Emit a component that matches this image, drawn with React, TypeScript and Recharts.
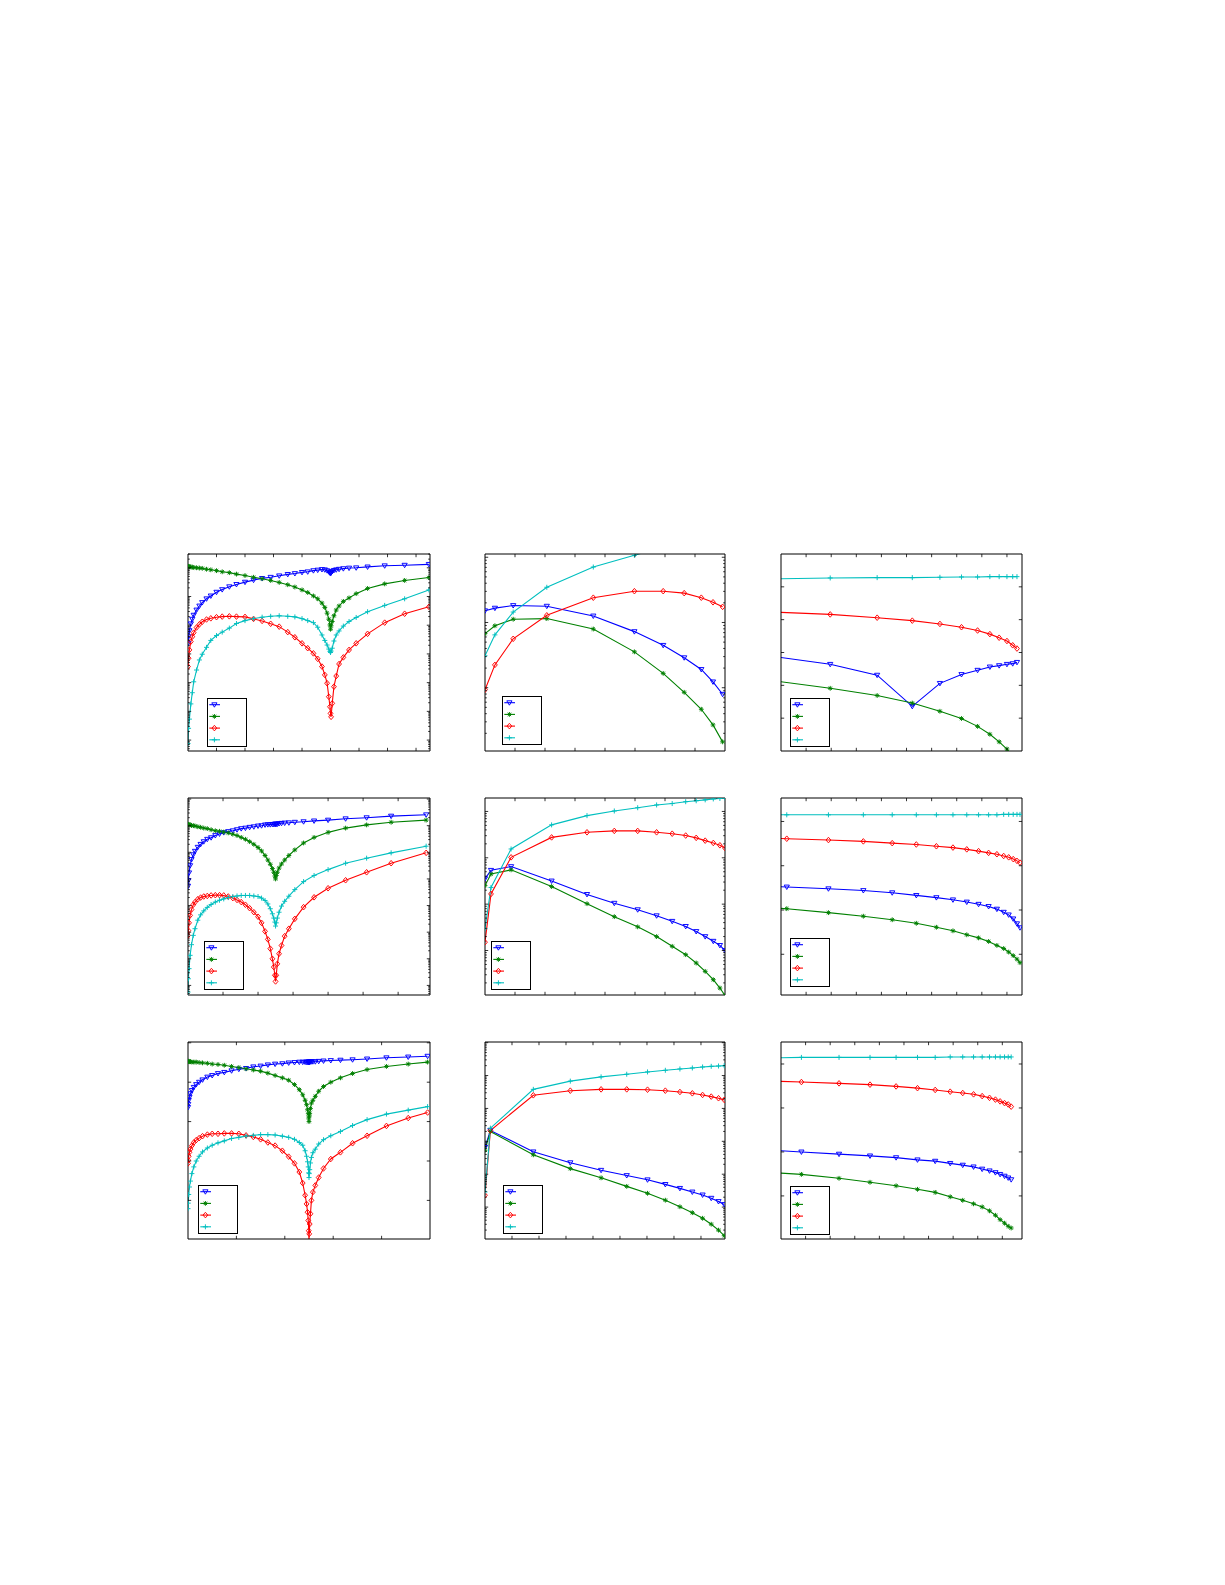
import React from "react";
import { LineChart, Line, XAxis, YAxis, Legend } from "recharts";

// Values are read off the picture. The axes have no labels, so x is measured in
// tick intervals and y in decades (log panels) or tick intervals (linear panels).

// ---- row 1, column 1 ----
const r1c1X = [0, 0.02, 0.05, 0.1, 0.15, 0.2, 0.3, 0.4, 0.5, 0.65, 0.8, 1.0, 1.2, 1.45, 1.7, 2.0, 2.3, 2.6, 2.9, 3.2, 3.5, 3.75, 4.0, 4.2, 4.4, 4.55, 4.7, 4.8, 4.88, 4.94, 4.98, 5.0, 5.02, 5.06, 5.12, 5.2, 5.3, 5.45, 5.65, 5.9, 6.3, 6.9, 7.6, 8.45];
const r1c1Blue = [3.37, 3.6, 3.81, 4.05, 4.21, 4.35, 4.53, 4.67, 4.79, 4.92, 5.02, 5.15, 5.24, 5.34, 5.42, 5.5, 5.57, 5.63, 5.67, 5.72, 5.77, 5.8, 5.84, 5.86, 5.9, 5.92, 5.94, 5.93, 5.9, 5.86, 5.83, 5.8, 5.83, 5.87, 5.91, 5.93, 5.95, 5.97, 5.99, 6.0, 6.03, 6.07, 6.09, 6.12];
const r1c1Green = [6.05, 6.05, 6.04, 6.03, 6.02, 6.01, 6.0, 5.99, 5.98, 5.95, 5.93, 5.9, 5.86, 5.83, 5.78, 5.73, 5.67, 5.62, 5.56, 5.49, 5.41, 5.33, 5.23, 5.14, 5.02, 4.92, 4.77, 4.62, 4.42, 4.21, 4.01, 3.86, 3.98, 4.13, 4.33, 4.53, 4.67, 4.83, 4.95, 5.1, 5.28, 5.44, 5.56, 5.66];
const r1c1Red = [2.56, 2.85, 3.14, 3.43, 3.6, 3.74, 3.92, 4.03, 4.12, 4.2, 4.24, 4.28, 4.3, 4.31, 4.3, 4.29, 4.22, 4.15, 4.05, 3.95, 3.76, 3.58, 3.37, 3.2, 3.02, 2.83, 2.56, 2.27, 1.98, 1.51, 1.16, 0.93, 0.81, 1.28, 1.86, 2.23, 2.65, 2.88, 3.14, 3.37, 3.7, 4.09, 4.4, 4.64];
const r1c1Cyan = [-0.12, 0.41, 0.73, 1.26, 1.65, 2.03, 2.44, 2.79, 2.99, 3.23, 3.47, 3.64, 3.76, 3.9, 4.06, 4.16, 4.23, 4.28, 4.31, 4.33, 4.31, 4.29, 4.23, 4.16, 4.09, 3.93, 3.66, 3.47, 3.31, 3.17, 3.09, 3.05, 3.1, 3.2, 3.45, 3.66, 3.8, 3.97, 4.13, 4.27, 4.47, 4.69, 4.92, 5.23];

// ---- row 1, column 2 ----
const r1c2X = [0, 0.33, 0.94, 2.06, 3.61, 4.98, 5.94, 6.64, 7.21, 7.6, 7.92];
const r1c2Blue = [1.18, 1.22, 1.26, 1.25, 1.1, 0.86, 0.65, 0.46, 0.28, 0.09, -0.1];
const r1c2Green = [0.83, 0.95, 1.05, 1.06, 0.9, 0.55, 0.22, -0.07, -0.33, -0.57, -0.83];
const r1c2Red = [-0.03, 0.35, 0.75, 1.11, 1.38, 1.48, 1.48, 1.45, 1.38, 1.31, 1.24];
const r1c2Cyan = [0.49, 0.81, 1.16, 1.54, 1.85, 2.03, 2.16, 2.23, 2.28, 2.31, 2.34];

// ---- row 1, column 3 ----
const r1c3X = [-0.3, 1.96, 3.83, 5.23, 6.33, 7.19, 7.83, 8.32, 8.69, 9.0, 9.23, 9.4];
const r1c3Blue = [2.88, 2.64, 2.31, 1.36, 2.06, 2.33, 2.46, 2.56, 2.6, 2.64, 2.66, 2.7];
const r1c3Green = [2.14, 1.91, 1.69, 1.46, 1.21, 0.99, 0.75, 0.51, 0.28, 0.06, -0.15, -0.3];
const r1c3Red = [4.23, 4.16, 4.06, 3.97, 3.87, 3.77, 3.67, 3.56, 3.45, 3.35, 3.22, 3.12];
const r1c3Cyan = [5.24, 5.27, 5.28, 5.28, 5.29, 5.3, 5.3, 5.31, 5.31, 5.31, 5.31, 5.31];

// ---- row 2, column 1 ----
const r2c1X = [0, 0.01, 0.03, 0.06, 0.1, 0.15, 0.2, 0.28, 0.36, 0.45, 0.55, 0.66, 0.78, 0.9, 1.02, 1.15, 1.28, 1.4, 1.52, 1.64, 1.76, 1.88, 2.0, 2.1, 2.2, 2.28, 2.35, 2.41, 2.45, 2.48, 2.5, 2.52, 2.55, 2.6, 2.67, 2.76, 2.88, 3.05, 3.3, 3.6, 4.0, 4.5, 5.1, 5.8, 6.8];
const r2c1Blue = [3.73, 3.94, 4.23, 4.5, 4.73, 4.91, 5.04, 5.19, 5.3, 5.4, 5.49, 5.55, 5.63, 5.69, 5.74, 5.78, 5.81, 5.85, 5.89, 5.91, 5.94, 5.96, 5.99, 6.0, 6.03, 6.04, 6.04, 6.05, 6.05, 6.06, 6.06, 6.06, 6.06, 6.08, 6.09, 6.1, 6.11, 6.13, 6.15, 6.18, 6.21, 6.26, 6.3, 6.36, 6.41];
const r2c1Green = [6.05, 6.05, 6.04, 6.03, 6.01, 6.0, 5.99, 5.96, 5.94, 5.91, 5.89, 5.85, 5.81, 5.79, 5.76, 5.73, 5.68, 5.63, 5.56, 5.49, 5.4, 5.3, 5.18, 5.05, 4.88, 4.71, 4.55, 4.39, 4.25, 4.11, 4.0, 4.13, 4.25, 4.41, 4.56, 4.71, 4.88, 5.09, 5.35, 5.56, 5.75, 5.91, 6.03, 6.13, 6.21];
const r2c1Red = [1.88, 2.06, 2.35, 2.63, 2.85, 3.03, 3.13, 3.24, 3.3, 3.34, 3.36, 3.38, 3.39, 3.39, 3.38, 3.34, 3.28, 3.21, 3.13, 3.03, 2.9, 2.75, 2.58, 2.35, 2.03, 1.73, 1.38, 1.0, 0.69, 0.38, 0.15, 0.38, 0.81, 1.19, 1.5, 1.85, 2.13, 2.5, 2.94, 3.31, 3.65, 3.95, 4.25, 4.59, 4.98];
const r2c1Cyan = [-0.25, 0.25, 0.63, 1.13, 1.53, 1.88, 2.13, 2.45, 2.65, 2.8, 2.93, 3.04, 3.13, 3.2, 3.25, 3.3, 3.34, 3.36, 3.38, 3.38, 3.38, 3.36, 3.34, 3.28, 3.19, 3.06, 2.88, 2.69, 2.53, 2.38, 2.23, 2.35, 2.53, 2.75, 2.98, 3.16, 3.35, 3.6, 3.9, 4.13, 4.35, 4.59, 4.78, 4.98, 5.23];

// ---- row 2, column 2 ----
const r2c2X = [0, 0.2, 0.87, 2.22, 3.4, 4.31, 5.09, 5.72, 6.24, 6.69, 7.04, 7.34, 7.61, 7.83, 8.0];
const r2c2Blue = [1.55, 1.73, 1.81, 1.5, 1.21, 1.02, 0.88, 0.75, 0.63, 0.52, 0.41, 0.3, 0.2, 0.11, 0.0];
const r2c2Green = [1.4, 1.65, 1.74, 1.38, 1.01, 0.73, 0.51, 0.3, 0.09, -0.09, -0.27, -0.45, -0.63, -0.81, -0.97];
const r2c2Red = [0.18, 1.22, 2.01, 2.44, 2.55, 2.58, 2.58, 2.55, 2.52, 2.48, 2.43, 2.37, 2.32, 2.27, 2.21];
const r2c2Cyan = [0.47, 1.36, 2.19, 2.71, 2.91, 3.01, 3.08, 3.14, 3.17, 3.21, 3.23, 3.25, 3.27, 3.28, 3.29];

// ---- row 2, column 3 ----
const r2c3X = [-0.4, 0.23, 1.89, 3.28, 4.43, 5.39, 6.19, 6.85, 7.4, 7.87, 8.27, 8.6, 8.87, 9.07, 9.25, 9.4, 9.52];
const r2c3Blue = [2.53, 2.52, 2.48, 2.44, 2.39, 2.33, 2.28, 2.23, 2.18, 2.13, 2.08, 2.02, 1.95, 1.89, 1.8, 1.69, 1.6];
const r2c3Green = [2.05, 2.03, 1.94, 1.86, 1.78, 1.7, 1.61, 1.53, 1.44, 1.37, 1.29, 1.2, 1.13, 1.05, 0.97, 0.89, 0.81];
const r2c3Red = [3.62, 3.61, 3.58, 3.55, 3.51, 3.48, 3.44, 3.41, 3.37, 3.33, 3.29, 3.26, 3.22, 3.19, 3.15, 3.11, 3.07];
const r2c3Cyan = [4.15, 4.15, 4.15, 4.15, 4.15, 4.15, 4.15, 4.15, 4.15, 4.15, 4.15, 4.15, 4.16, 4.16, 4.16, 4.16, 4.16];

// ---- row 3, column 1 ----
const r3c1X = [0, 0.005, 0.015, 0.03, 0.05, 0.08, 0.12, 0.17, 0.23, 0.3, 0.4, 0.5, 0.62, 0.75, 0.9, 1.05, 1.2, 1.35, 1.5, 1.65, 1.8, 1.95, 2.08, 2.2, 2.3, 2.37, 2.42, 2.45, 2.47, 2.485, 2.495, 2.5, 2.505, 2.515, 2.53, 2.55, 2.58, 2.63, 2.7, 2.8, 2.95, 3.15, 3.4, 3.7, 4.1, 4.55, 4.95];
const r3c1Blue = [2.36, 2.44, 2.54, 2.62, 2.71, 2.79, 2.87, 2.94, 3.0, 3.06, 3.13, 3.17, 3.22, 3.25, 3.29, 3.33, 3.35, 3.39, 3.41, 3.44, 3.46, 3.47, 3.49, 3.5, 3.51, 3.51, 3.51, 3.51, 3.51, 3.51, 3.51, 3.51, 3.51, 3.51, 3.52, 3.52, 3.52, 3.52, 3.53, 3.54, 3.55, 3.56, 3.57, 3.59, 3.62, 3.64, 3.66];
const r3c1Green = [3.53, 3.53, 3.53, 3.52, 3.52, 3.51, 3.51, 3.51, 3.5, 3.49, 3.48, 3.46, 3.45, 3.43, 3.4, 3.37, 3.34, 3.31, 3.28, 3.23, 3.17, 3.11, 3.05, 2.94, 2.81, 2.68, 2.54, 2.43, 2.3, 2.2, 2.09, 2.0, 2.14, 2.21, 2.33, 2.47, 2.54, 2.64, 2.77, 2.89, 3.0, 3.11, 3.22, 3.32, 3.4, 3.46, 3.51];
const r3c1Red = [0.94, 1.02, 1.12, 1.22, 1.3, 1.39, 1.47, 1.53, 1.58, 1.63, 1.67, 1.69, 1.69, 1.7, 1.7, 1.69, 1.65, 1.61, 1.55, 1.47, 1.39, 1.26, 1.11, 0.94, 0.72, 0.44, 0.13, -0.09, -0.3, -0.51, -0.77, -1.11, -0.85, -0.6, -0.34, 0.0, 0.21, 0.38, 0.58, 0.81, 1.05, 1.22, 1.45, 1.64, 1.89, 2.09, 2.23];
const r3c1Cyan = [-0.21, -0.07, 0.15, 0.34, 0.49, 0.68, 0.85, 1.0, 1.12, 1.23, 1.33, 1.4, 1.46, 1.51, 1.57, 1.6, 1.63, 1.65, 1.67, 1.67, 1.66, 1.63, 1.6, 1.55, 1.47, 1.4, 1.26, 1.12, 0.98, 0.85, 0.7, 0.58, 0.68, 0.78, 0.95, 1.09, 1.21, 1.3, 1.43, 1.54, 1.64, 1.75, 1.9, 2.05, 2.19, 2.29, 2.38];

// ---- row 3, column 2 ----
const r3c2X = [0, 0.2, 1.79, 3.16, 4.3, 5.25, 6.02, 6.68, 7.22, 7.68, 8.06, 8.38, 8.65, 8.86];
const r3c2Blue = [1.82, 2.33, 1.68, 1.35, 1.12, 0.96, 0.83, 0.69, 0.57, 0.46, 0.37, 0.27, 0.17, 0.08];
const r3c2Green = [1.73, 2.3, 1.59, 1.17, 0.89, 0.63, 0.42, 0.21, 0.01, -0.17, -0.34, -0.52, -0.7, -0.87];
const r3c2Red = [0.36, 2.33, 3.4, 3.54, 3.58, 3.58, 3.57, 3.54, 3.5, 3.46, 3.41, 3.36, 3.31, 3.26];
const r3c2Cyan = [0.46, 2.4, 3.58, 3.83, 3.96, 4.04, 4.11, 4.16, 4.2, 4.23, 4.26, 4.28, 4.29, 4.3];

// ---- row 3, column 3 ----
const r3c3X = [-0.4, 0.83, 2.36, 3.62, 4.68, 5.55, 6.27, 6.88, 7.39, 7.83, 8.18, 8.48, 8.72, 8.91, 9.09, 9.24, 9.36];
const r3c3Blue = [2.04, 2.0, 1.95, 1.91, 1.87, 1.82, 1.79, 1.74, 1.7, 1.66, 1.61, 1.57, 1.53, 1.49, 1.45, 1.41, 1.37];
const r3c3Green = [1.53, 1.49, 1.4, 1.31, 1.23, 1.15, 1.08, 0.98, 0.9, 0.82, 0.75, 0.66, 0.56, 0.46, 0.38, 0.31, 0.27];
const r3c3Red = [3.61, 3.59, 3.56, 3.53, 3.49, 3.45, 3.41, 3.37, 3.34, 3.31, 3.27, 3.23, 3.19, 3.15, 3.11, 3.08, 3.03];
const r3c3Cyan = [4.14, 4.15, 4.15, 4.15, 4.15, 4.15, 4.15, 4.16, 4.16, 4.16, 4.16, 4.16, 4.16, 4.16, 4.16, 4.16, 4.16];

type Kind = "blue" | "green" | "red" | "cyan";
const KINDS: Kind[] = ["blue", "green", "red", "cyan"];
const COLORS: Record<Kind, string> = {
  blue: "#0000ff",
  green: "#008000",
  red: "#ff0000",
  cyan: "#00bfbf",
};

// panel grid on the page (plot-box edges)
const COLS = [
  { left: 188, w: 242 },
  { left: 485, w: 240 },
  { left: 781, w: 241 },
];
const ROWS = [
  { top: 554, h: 197 },
  { top: 798, h: 197 },
  { top: 1042, h: 197 },
];

const range = (a: number, b: number) => {
  const out: number[] = [];
  for (let i = a; i <= b; i++) out.push(i);
  return out;
};

// minor ticks of a log axis whose values are in decades
const logMinor = (lo: number, hi: number) => {
  const out: number[] = [];
  for (let k = Math.floor(lo); k <= Math.ceil(hi); k++) {
    for (let m = 2; m <= 9; m++) {
      const t = k + Math.log10(m);
      if (t > lo && t < hi) out.push(t);
    }
  }
  return out;
};

interface PanelDef {
  id: string;
  row: number;
  col: number;
  x: number[];
  values: Record<Kind, number[]>;
  xDomain: [number, number];
  xTicks: number[];
  yDomain: [number, number];
  yTicks: number[];
  logY: boolean;
  legend: [number, number]; // offset from plot left, gap above plot bottom
}

const PANELS: PanelDef[] = [
  { id: "r1c1", row: 0, col: 0, x: r1c1X, values: { blue: r1c1Blue, green: r1c1Green, red: r1c1Red, cyan: r1c1Cyan }, xDomain: [0, 8.49], xTicks: range(1, 8), yDomain: [-0.38, 6.48], yTicks: range(0, 6), logY: true, legend: [19, 4] },
  { id: "r1c2", row: 0, col: 1, x: r1c2X, values: { blue: r1c2Blue, green: r1c2Green, red: r1c2Red, cyan: r1c2Cyan }, xDomain: [0, 8.0], xTicks: range(1, 7), yDomain: [-0.97, 2.05], yTicks: range(0, 2), logY: true, legend: [17, 6] },
  { id: "r1c3", row: 0, col: 2, x: r1c3X, values: { blue: r1c3Blue, green: r1c3Green, red: r1c3Red, cyan: r1c3Cyan }, xDomain: [0, 9.6], xTicks: range(1, 9), yDomain: [0, 6], yTicks: range(1, 5), logY: false, legend: [9, 4] },
  { id: "r2c1", row: 1, col: 0, x: r2c1X, values: { blue: r2c1Blue, green: r2c1Green, red: r2c1Red, cyan: r2c1Cyan }, xDomain: [0, 6.91], xTicks: range(1, 6), yDomain: [-0.36, 7.04], yTicks: range(0, 7), logY: true, legend: [16, 5] },
  { id: "r2c2", row: 1, col: 1, x: r2c2X, values: { blue: r2c2Blue, green: r2c2Green, red: r2c2Red, cyan: r2c2Cyan }, xDomain: [0, 8.0], xTicks: range(1, 7), yDomain: [-0.96, 3.29], yTicks: range(0, 3), logY: true, legend: [6, 5] },
  { id: "r2c3", row: 1, col: 2, x: r2c3X, values: { blue: r2c3Blue, green: r2c3Green, red: r2c3Red, cyan: r2c3Cyan }, xDomain: [0, 9.6], xTicks: range(1, 9), yDomain: [0.08, 4.53], yTicks: range(1, 4), logY: false, legend: [9, 8] },
  { id: "r3c1", row: 2, col: 0, x: r3c1X, values: { blue: r3c1Blue, green: r3c1Green, red: r3c1Red, cyan: r3c1Cyan }, xDomain: [0, 5.0], xTicks: range(1, 4), yDomain: [-0.98, 4.02], yTicks: range(0, 4), logY: false, legend: [10, 5] },
  { id: "r3c2", row: 2, col: 1, x: r3c2X, values: { blue: r3c2Blue, green: r3c2Green, red: r3c2Red, cyan: r3c2Cyan }, xDomain: [0, 8.89], xTicks: range(1, 8), yDomain: [-0.97, 5.02], yTicks: range(0, 5), logY: true, legend: [18, 5] },
  { id: "r3c3", row: 2, col: 2, x: r3c3X, values: { blue: r3c3Blue, green: r3c3Green, red: r3c3Red, cyan: r3c3Cyan }, xDomain: [0, 9.8], xTicks: range(1, 9), yDomain: [0.02, 4.5], yTicks: range(1, 4), logY: false, legend: [9, 4] },
];

function Marker({ kind, cx, cy }: { kind: Kind; cx: number; cy: number }) {
  const c = COLORS[kind];
  const sw = 0.95;
  if (kind === "blue") {
    return <polygon points={`${cx - 2.6},${cy - 1.9} ${cx + 2.6},${cy - 1.9} ${cx},${cy + 2.5}`} fill="none" stroke={c} strokeWidth={sw} />;
  }
  if (kind === "green") {
    const r = 2.4;
    const d = 1.7;
    return (
      <g stroke={c} strokeWidth={sw}>
        <line x1={cx - r} y1={cy} x2={cx + r} y2={cy} />
        <line x1={cx} y1={cy - r} x2={cx} y2={cy + r} />
        <line x1={cx - d} y1={cy - d} x2={cx + d} y2={cy + d} />
        <line x1={cx - d} y1={cy + d} x2={cx + d} y2={cy - d} />
      </g>
    );
  }
  if (kind === "red") {
    return <polygon points={`${cx},${cy - 2.8} ${cx + 2.4},${cy} ${cx},${cy + 2.8} ${cx - 2.4},${cy}`} fill="none" stroke={c} strokeWidth={sw} />;
  }
  return (
    <g stroke={c} strokeWidth={sw}>
      <line x1={cx - 2.5} y1={cy} x2={cx + 2.5} y2={cy} />
      <line x1={cx} y1={cy - 2.5} x2={cx} y2={cy + 2.5} />
    </g>
  );
}

// inward tick marks, longer for major ticks
const makeTick = (side: "bottom" | "top" | "left" | "right", majors: number[]) => (p: any) => {
  const v = p.payload?.value;
  const len = majors.some((m) => Math.abs(m - v) < 1e-9) ? 3.2 : 1.8;
  const { x, y } = p;
  let x2 = x;
  let y2 = y;
  if (side === "bottom") y2 = y - len;
  if (side === "top") y2 = y + len;
  if (side === "left") x2 = x + len;
  if (side === "right") x2 = x - len;
  return <line x1={x} y1={y} x2={x2} y2={y2} stroke="#000" strokeWidth={0.8} />;
};

// legend box without text, entries kept in plotting order
function LegendBox() {
  return (
    <div style={{ width: 40, height: 49, boxSizing: "border-box", border: "1px solid #000", background: "#fff" }}>
      <svg width={38} height={47} style={{ display: "block" }}>
        {KINDS.map((k, i) => {
          const y = 5.7 + i * 11.7;
          return (
            <g key={k}>
              <line x1={1.3} y1={y} x2={12} y2={y} stroke={COLORS[k]} strokeWidth={1.1} />
              <Marker kind={k} cx={6.4} cy={y} />
            </g>
          );
        })}
      </svg>
    </div>
  );
}

function Panel({ p }: { p: PanelDef }) {
  const { left, w } = COLS[p.col];
  const { top, h } = ROWS[p.row];
  const cw = w + 2;
  const ch = h + 2;
  const inside = (t: number, d: [number, number]) => t >= d[0] - 1e-9 && t <= d[1] + 1e-9;
  const xTicks = p.xTicks.filter((t) => inside(t, p.xDomain));
  const yMajor = p.yTicks.filter((t) => inside(t, p.yDomain));
  const yAll = p.logY ? [...yMajor, ...logMinor(p.yDomain[0], p.yDomain[1])].sort((a, b) => a - b) : yMajor;

  const axisCommon = {
    type: "number" as const,
    allowDataOverflow: true,
    interval: 0 as const,
    tickSize: 0,
    tickMargin: 0,
    tickLine: false,
    axisLine: { stroke: "#000", strokeWidth: 1 },
  };

  return (
    <div style={{ position: "absolute", left: left - 1, top: top - 1, width: cw, height: ch }}>
      <LineChart width={cw} height={ch} margin={{ top: 0, right: 0, bottom: 0, left: 0 }}>
        <XAxis {...axisCommon} xAxisId="b" orientation="bottom" dataKey="x" domain={p.xDomain} ticks={xTicks} height={1} tick={makeTick("bottom", xTicks)} />
        <XAxis {...axisCommon} xAxisId="t" orientation="top" dataKey="x" domain={p.xDomain} ticks={xTicks} height={1} tick={makeTick("top", xTicks)} />
        <YAxis {...axisCommon} yAxisId="l" orientation="left" domain={p.yDomain} ticks={yAll} width={1} tick={makeTick("left", yMajor)} />
        <YAxis {...axisCommon} yAxisId="r" orientation="right" domain={p.yDomain} ticks={yAll} width={1} tick={makeTick("right", yMajor)} />
        {KINDS.map((k) => (
          <Line
            key={k}
            name={k}
            xAxisId="b"
            yAxisId="l"
            data={p.x.map((x, i) => ({ x, y: p.values[k][i] }))}
            dataKey="y"
            type="linear"
            stroke={COLORS[k]}
            strokeWidth={1.1}
            isAnimationActive={false}
            dot={(d: any) =>
              d.cx == null || d.cy == null ? <g key={`${k}-${d.index}`} /> : <Marker key={`${k}-${d.index}`} kind={k} cx={d.cx} cy={d.cy} />
            }
            activeDot={false}
          />
        ))}
        <Legend
          layout="vertical"
          align="center"
          verticalAlign="middle"
          wrapperStyle={{ left: p.legend[0] + 1, top: 1 + h - p.legend[1] - 49, width: 40, height: 49 }}
          content={() => <LegendBox />}
        />
      </LineChart>
    </div>
  );
}

export default function App() {
  return (
    <div style={{ position: "absolute", left: 0, top: 0, width: 1225, height: 1585, background: "#fff", fontFamily: "'DejaVu Sans', sans-serif" }}>
      {PANELS.map((p) => (
        <Panel key={p.id} p={p} />
      ))}
    </div>
  );
}
